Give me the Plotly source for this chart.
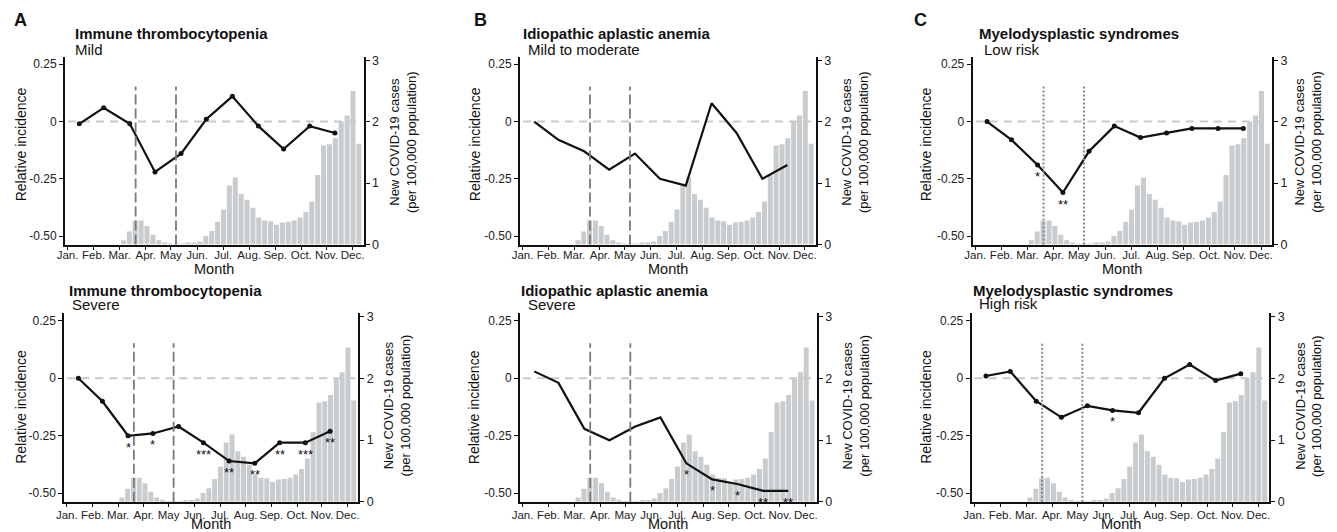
import plotly.graph_objects as go

# ---------------- data ----------------
months = ["Jan.", "Feb.", "Mar.", "Apr.", "May", "Jun.", "Jul.", "Aug.", "Sep.", "Oct.", "Nov.", "Dec."]
month_tick_days = [16, 47, 78, 109, 139, 170, 201, 232, 263, 294, 324, 355]

# monthly points (day of year, Jan 1 = 0): end of Jan ... end of Nov
point_days = [30, 59, 90, 120, 151, 181, 212, 243, 273, 304, 334]

# weekly COVID-19 cases (centre day of each week)
week_days = [82.5, 89.5, 96.5, 103.5, 110.5, 117.5, 124.5, 131.5, 138.5, 145.5,
             152.5, 159.5, 166.5, 173.5, 180.5, 187.5, 194.5, 201.5, 208.5, 215.5,
             222.5, 229.5, 236.5, 243.5, 250.5, 257.5, 264.5, 271.5, 278.5, 285.5,
             292.5, 299.5, 306.5, 313.5, 320.5, 327.5, 334.5, 341.5, 348.5, 355.5, 362.5]
covid_cases = [0.07, 0.21, 0.39, 0.39, 0.30, 0.16, 0.07, 0.03, 0.01, 0.01,
               0.01, 0.02, 0.02, 0.05, 0.14, 0.22, 0.37, 0.57, 0.96, 1.09,
               0.82, 0.73, 0.60, 0.44, 0.39, 0.38, 0.32, 0.36, 0.37, 0.39,
               0.44, 0.53, 0.70, 1.13, 1.61, 1.63, 1.73, 2.00, 2.10, 2.50, 1.64]

# state of emergency (Apr 7 - May 25)
emergency_days = [97, 145]

itp_mild = [-0.01, 0.06, -0.01, -0.22, -0.14, 0.01, 0.11, -0.02, -0.12, -0.02, -0.05]
iaa_mild = [0.00, -0.08, -0.13, -0.21, -0.14, -0.25, -0.28, 0.08, -0.05, -0.25, -0.19]
mds_low = [0.00, -0.08, -0.19, -0.31, -0.13, -0.02, -0.07, -0.05, -0.03, -0.03, -0.03]
itp_severe = [0.00, -0.10, -0.25, -0.24, -0.21, -0.28, -0.36, -0.37, -0.28, -0.28, -0.23]
iaa_severe = [0.03, -0.02, -0.22, -0.27, -0.21, -0.17, -0.37, -0.44, -0.46, -0.49, -0.49]
mds_high = [0.01, 0.03, -0.10, -0.17, -0.12, -0.14, -0.15, 0.00, 0.06, -0.01, 0.02]

itp_mild_sig = ["", "", "", "", "", "", "", "", "", "", ""]
iaa_mild_sig = ["", "", "", "", "", "", "", "", "", "", ""]
mds_low_sig = ["", "", "*", "**", "", "", "", "", "", "", ""]
itp_severe_sig = ["", "", "*", "*", "", "***", "**", "**", "**", "***", "**"]
iaa_severe_sig = ["", "", "", "", "", "", "*", "*", "*", "**", "**"]
mds_high_sig = ["", "", "", "", "", "*", "", "", "", "", ""]

left_ticks = [-0.5, -0.25, 0, 0.25]
left_ticktext = ["-0.50", "-0.25", "0", "0.25"]
right_ticks = [0, 1, 2, 3]

# ---------------- layout geometry (pixels) ----------------
W, H = 1337, 532
FONT = "Liberation Sans, Arial, sans-serif"


def px(x):
    return x / W


def py(y):
    return 1 - y / H


panels = [
    dict(letter="A", title="Immune thrombocytopenia", sub="Mild", vals=itp_mild, sig=itp_mild_sig,
         markers=True, dotted=False, x0=65, x1=363.5, y0=56.5, y1=244.5, so=-4,
         tx=72.7, sx=72.7, ty=33.3, sy=49.3, lt=20.8, rt=403, ltc=144.5, rtc=142, mty=269.3),
    dict(letter="B", title="Idiopathic aplastic anemia", sub="Mild to moderate", vals=iaa_mild, sig=iaa_mild_sig,
         markers=False, dotted=False, x0=520, x1=815.7, y0=56.5, y1=244.5, so=-4,
         tx=521, sx=526, ty=33.3, sy=49.3, lt=474.7, rt=855, ltc=144.5, rtc=142, mty=269.3),
    dict(letter="C", title="Myelodysplastic syndromes", sub="Low risk", vals=mds_low, sig=mds_low_sig,
         markers=True, dotted=True, x0=972.7, x1=1272, y0=56.5, y1=244.5, so=-4,
         tx=976.7, sx=981.7, ty=33.3, sy=49.3, lt=925.8, rt=1307.8, ltc=144.5, rtc=142, mty=269.3),
    dict(letter=None, title="Immune thrombocytopenia", sub="Severe", vals=itp_severe, sig=itp_severe_sig,
         markers=True, dotted=False, x0=64.3, x1=358.3, y0=313, y1=501.7, so=-2,
         tx=66.7, sx=70, ty=290, sy=304.3, lt=20.8, rt=396.7, ltc=407, rtc=405.7, mty=524),
    dict(letter=None, title="Idiopathic aplastic anemia", sub="Severe", vals=iaa_severe, sig=iaa_severe_sig,
         markers=False, dotted=False, x0=520, x1=816.7, y0=313, y1=501.7, so=-2,
         tx=519, sx=525.7, ty=290, sy=304.3, lt=474.2, rt=856, ltc=407, rtc=405.7, mty=524),
    dict(letter=None, title="Myelodysplastic syndromes", sub="High risk", vals=mds_high, sig=mds_high_sig,
         markers=True, dotted=True, x0=971.7, x1=1269.3, y0=313, y1=501.7, so=-2,
         tx=970.7, sx=977, ty=290, sy=303.7, lt=925.8, rt=1308.3, ltc=407, rtc=405.7, mty=524),
]
letter_pos = {"A": 12, "B": 471.7, "C": 911.7}

fig = go.Figure()
layout = dict(
    width=W, height=H, margin=dict(l=0, r=0, t=0, b=0, autoexpand=False),
    paper_bgcolor="white", plot_bgcolor="white", showlegend=False,
    font=dict(family=FONT, color="#111111"),
)
annotations = []
shapes = []

for i, p in enumerate(panels, start=1):
    xa = "x" if i == 1 else f"x{i}"
    yb_n = 2 * i - 1
    yl_n = 2 * i
    yb = "y" if yb_n == 1 else f"y{yb_n}"
    yl = f"y{yl_n}"
    xkey = "xaxis" if i == 1 else f"xaxis{i}"
    ybkey = "yaxis" if yb_n == 1 else f"yaxis{yb_n}"
    ylkey = f"yaxis{yl_n}"

    fig.add_trace(go.Bar(x=week_days, y=covid_cases, width=6, xaxis=xa, yaxis=yb,
                         marker=dict(color="rgb(201,204,206)", line=dict(width=0)),
                         hoverinfo="skip"))
    fig.add_trace(go.Scatter(x=point_days, y=p["vals"], xaxis=xa, yaxis=yl,
                             mode="lines+markers" if p["markers"] else "lines",
                             line=dict(color="#111111", width=2.2),
                             marker=dict(size=5, color="#111111")))

    layout[xkey] = dict(domain=[px(p["x0"]), px(p["x1"])], anchor=yb, range=[13, 368],
                        tickvals=month_tick_days, ticktext=months, tickangle=0, automargin=False,
                        ticks="outside", ticklen=3, ticklabelstandoff=p["so"],
                        tickwidth=1.3, tickcolor="#111", showline=True, linewidth=2, linecolor="#111",
                        showgrid=False, zeroline=False, tickfont=dict(size=11.5, color="#222"),
                        fixedrange=True)
    layout[ybkey] = dict(domain=[py(p["y1"]), py(p["y0"])], anchor=xa, side="right", automargin=False,
                         range=[0, 3.06], tickvals=right_ticks, ticks="outside", ticklen=4,
                         tickwidth=1.3, tickcolor="#111", showline=True, linewidth=2, linecolor="#111",
                         showgrid=False, zeroline=False, tickfont=dict(size=12.5, color="#222"),
                         fixedrange=True)
    layout[ylkey] = dict(overlaying=yb, anchor=xa, side="left", range=[-0.537, 0.284], automargin=False,
                         tickvals=left_ticks, ticktext=left_ticktext, ticks="outside", ticklen=4,
                         tickwidth=1.3, tickcolor="#111", showline=True, linewidth=2, linecolor="#111",
                         showgrid=False, zeroline=False, tickfont=dict(size=12, color="#222"),
                         fixedrange=True)

    # zero reference line
    shapes.append(dict(type="line", xref=f"{xa} domain", x0=0.01, x1=0.99, yref=yl, y0=0, y1=0,
                       line=dict(color="#c9c9c9", width=2, dash="8px,6px"), layer="below"))
    # emergency period lines
    for d in emergency_days:
        if p["dotted"]:
            ln = dict(color="#808a98", width=2, dash="2px,2px")
        else:
            ln = dict(color="#7a7a7a", width=1.8, dash="10px,4px")
        shapes.append(dict(type="line", xref=xa, x0=d, x1=d, yref=f"{yb} domain", y0=0, y1=0.84,
                           line=ln, layer="above"))

    # significance stars
    for d, v, s in zip(point_days, p["vals"], p["sig"]):
        if s:
            annotations.append(dict(x=d, y=v, xref=xa, yref=yl, text=s, showarrow=False,
                                    xanchor="center", yanchor="top", yshift=-2,
                                    font=dict(size=13, color="#111")))

    # titles
    annotations.append(dict(x=px(p["tx"]), y=py(p["ty"]), xref="paper", yref="paper",
                            text=f"<b>{p['title']}</b>", showarrow=False, xanchor="left",
                            yanchor="middle", font=dict(size=15, color="#111")))
    annotations.append(dict(x=px(p["sx"]), y=py(p["sy"]), xref="paper", yref="paper",
                            text=p["sub"], showarrow=False, xanchor="left",
                            yanchor="middle", font=dict(size=15, color="#111")))
    # axis titles
    annotations.append(dict(x=px(p["lt"]), y=py(p["ltc"]), xref="paper", yref="paper",
                            text="Relative incidence", textangle=-90, showarrow=False,
                            xanchor="center", yanchor="middle", font=dict(size=14, color="#111")))
    annotations.append(dict(x=px(p["rt"]), y=py(p["rtc"]), xref="paper", yref="paper",
                            text="New COVID-19 cases<br>(per 100,000 population)", textangle=-90,
                            showarrow=False, xanchor="center", yanchor="middle",
                            font=dict(size=13, color="#111")))
    annotations.append(dict(x=px((p["x0"] + p["x1"]) / 2), y=py(p["mty"]), xref="paper", yref="paper",
                            text="Month", showarrow=False, xanchor="center", yanchor="middle",
                            font=dict(size=14.5, color="#111")))
    if p["letter"]:
        annotations.append(dict(x=px(letter_pos[p["letter"]]), y=py(20), xref="paper", yref="paper",
                                text=f"<b>{p['letter']}</b>", showarrow=False, xanchor="left",
                                yanchor="middle", font=dict(size=18, color="#111")))

layout["annotations"] = annotations
layout["shapes"] = shapes
fig.update_layout(**layout)

fig.write_html("out.html", config={"displayModeBar": False},
               post_script="document.body.style.margin='0';document.body.style.overflow='hidden';")
